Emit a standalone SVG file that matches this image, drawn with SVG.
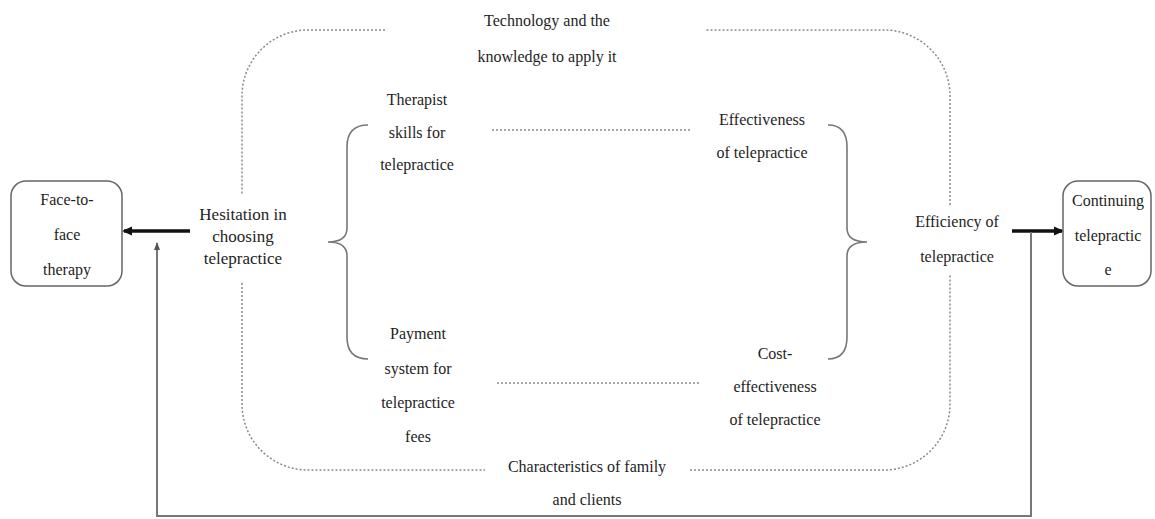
<svg xmlns="http://www.w3.org/2000/svg" width="1155" height="519" viewBox="0 0 1155 519">
<style>
text{font-family:'Liberation Serif','DejaVu Serif','Times New Roman',serif;font-size:16px;fill:#1e1e1e;text-anchor:middle}
.big{font-size:17px}
.dot{fill:none;stroke:#8a8a8a;stroke-width:1.5;stroke-dasharray:2 2}
.brace{fill:none;stroke:#777;stroke-width:1.6}
.box{fill:#fff;stroke:#666;stroke-width:1.5}
.thick{stroke:#111;stroke-width:3.5;fill:none}
.fb{stroke:#777;stroke-width:2;fill:none}
</style>
<defs>
<marker id="ah" markerWidth="10" markerHeight="10" refX="8" refY="5" orient="auto" markerUnits="userSpaceOnUse" viewBox="0 0 10 10"><path d="M0,0.5 L10,5 L0,9.5 z" fill="#111"/></marker>
<marker id="ahs" markerWidth="8" markerHeight="8" refX="7" refY="4" orient="auto" markerUnits="userSpaceOnUse" viewBox="0 0 8 8"><path d="M0,1 L8,4 L0,7 z" fill="#555"/></marker>
</defs>
<g id="frame">
<path class="dot" d="M385 30 H308 A66 66 0 0 0 242 96 V195"/>
<path class="dot" d="M242 283 V404 A66 66 0 0 0 308 470 H485"/>
<path class="dot" d="M690 470 H884 A66 66 0 0 0 950 404 V275"/>
<path class="dot" d="M950 205 V96 A66 66 0 0 0 884 30 H705"/>
</g>
<g id="connectors">
<path class="dot" d="M492 130 H690"/>
<path class="dot" d="M497 383 H700"/>
<path class="brace" d="M368 125 Q347 125 347 147 V228 Q347 242 328 242 Q347 242 347 256 V337 Q347 359 368 359"/>
<path class="brace" d="M828 125 Q847 125 847 147 V228 Q847 242 867 242 Q847 242 847 256 V337 Q847 359 828 359"/>
<path class="thick" d="M190 231 H124" marker-end="url(#ah)"/>
<path class="thick" d="M1012 231 H1062" marker-end="url(#ah)"/>
<path class="fb" d="M1031 232 V516 H157 V243" marker-end="url(#ahs)"/>
</g>
<g font-family="'Liberation Serif', 'DejaVu Serif', serif">
<g id="technology"><text x="547" y="26">Technology  and the</text><text x="547" y="62">knowledge  to apply  it</text></g>
<g id="therapist"><text x="417" y="105">Therapist</text><text x="417" y="138">skills  for</text><text x="417" y="170">telepractice</text></g>
<g id="effectiveness"><text x="762" y="125">Effectiveness</text><text x="762" y="158">of telepractice</text></g>
<g id="hesitation"><text class="big" x="243" y="220">Hesitation  in</text><text class="big" x="243" y="242">choosing</text><text class="big" x="243" y="264">telepractice</text></g>
<g id="efficiency"><text x="957" y="227">Efficiency  of</text><text x="957" y="262">telepractice</text></g>
<g id="payment"><text x="418" y="339">Payment</text><text x="418" y="374">system  for</text><text x="418" y="408">telepractice</text><text x="418" y="442">fees</text></g>
<g id="cost"><text x="775" y="359">Cost-</text><text x="775" y="392">effectiveness</text><text x="775" y="425">of telepractice</text></g>
<g id="characteristics"><text x="587" y="472">Characteristics  of family</text><text x="587" y="505">and clients</text></g>
<g id="face"><rect class="box" x="11" y="181" width="111" height="105" rx="15"/><text x="67" y="205">Face-to-</text><text x="67" y="240">face</text><text x="67" y="275">therapy</text></g>
<g id="continuing"><rect class="box" x="1063" y="181" width="88" height="105" rx="15"/><text x="1108" y="206">Continuing</text><text x="1108" y="241">telepractic</text><text x="1108" y="275">e</text></g>
</g>
</svg>
